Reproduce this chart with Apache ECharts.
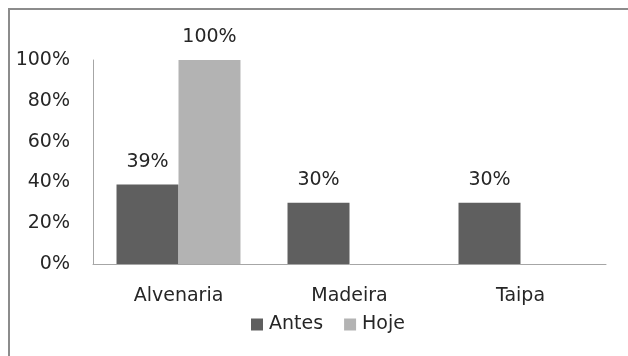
<!DOCTYPE html>
<html>
<head>
<meta charset="utf-8">
<script src="https://cdn.jsdelivr.net/npm/echarts@6/dist/echarts.min.js"></script>
<style>
  html, body { margin: 0; padding: 0; background: #fff; }
  #chart { width: 628px; height: 356px; }
</style>
</head>
<body>
<div id="chart"></div>
<script>
// dados do gráfico
const categorias = ['Alvenaria', 'Madeira', 'Taipa'];
const antes = [39, 30, 30];
const hoje = [100, 0, 0];
const yTicks = [0, 20, 40, 60, 80, 100];

const FONTE = 'DejaVu Sans';
const COR_TEXTO = '#262626';
const COR_EIXO = '#a6a6a6';

const chart = echarts.init(document.getElementById('chart'));

// rótulo só quando há valor
const rotulo = {
    show: true,
    position: 'top',
    distance: 13,
    fontFamily: FONTE,
    fontSize: 19,
    color: COR_TEXTO,
    formatter: p => p.value ? p.value + '%' : ''
};

chart.setOption({
    animation: false,
    backgroundColor: '#fff',
    graphic: [{
        type: 'rect',
        shape: { x: 9, y: 9, width: 680, height: 420 },
        style: { fill: 'none', stroke: '#8c8c8c', lineWidth: 2 },
        silent: true
    }],
    grid: { left: 93, right: 22, top: 60, bottom: 92 },
    legend: {
        data: ['Antes', 'Hoje'],
        top: 310,
        left: 246,
        itemWidth: 12,
        itemHeight: 12,
        itemGap: 21,
        icon: 'rect',
        textStyle: { fontFamily: FONTE, fontSize: 19, color: COR_TEXTO, padding: [0, 0, 0, 1] }
    },
    xAxis: {
        type: 'category',
        data: categorias,
        axisTick: { show: false },
        axisLine: { lineStyle: { color: COR_EIXO, width: 1 } },
        axisLabel: { margin: 23, fontFamily: FONTE, fontSize: 19, color: COR_TEXTO }
    },
    yAxis: {
        type: 'value',
        min: yTicks[0],
        max: yTicks[yTicks.length - 1],
        interval: yTicks[1] - yTicks[0],
        splitLine: { show: false },
        axisTick: { show: false },
        axisLine: { show: true, lineStyle: { color: COR_EIXO, width: 1 } },
        axisLabel: {
            margin: 23,
            fontFamily: FONTE,
            fontSize: 19,
            color: COR_TEXTO,
            formatter: '{value}%'
        }
    },
    series: [
        {
            name: 'Antes',
            type: 'bar',
            data: antes,
            barGap: 0,
            barCategoryGap: '27.5%',
            itemStyle: { color: '#5f5f5f' },
            label: rotulo
        },
        {
            name: 'Hoje',
            type: 'bar',
            data: hoje,
            itemStyle: { color: '#b3b3b3' },
            label: rotulo
        }
    ]
});
</script>
</body>
</html>
